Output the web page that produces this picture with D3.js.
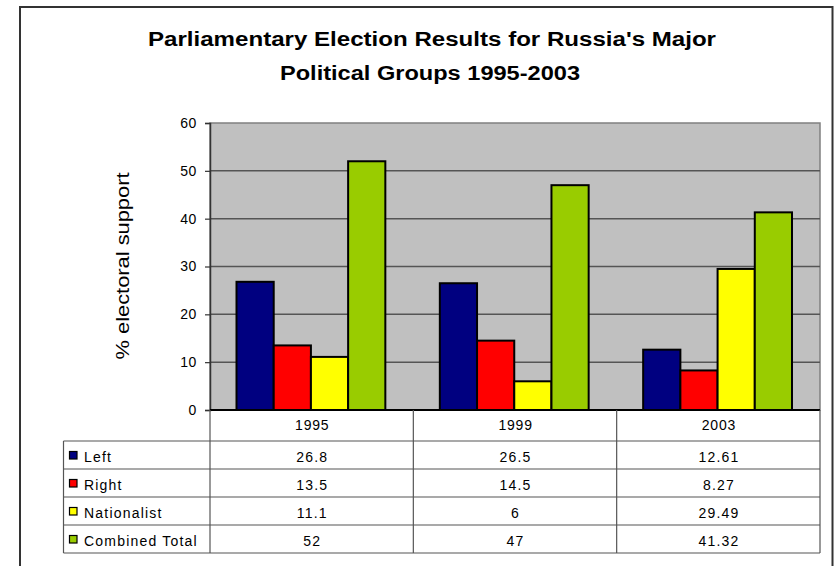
<!DOCTYPE html>
<html><head><meta charset="utf-8">
<script src="https://cdn.jsdelivr.net/npm/d3@7"></script>
<style>body{margin:0;background:#fff}svg{display:block}</style>
</head><body>
<script>
const years = ["1995", "1999", "2003"];
const seriesNames = ["Left", "Right", "Nationalist", "Combined Total"];
const leftVals = [26.8, 26.5, 12.61];
const rightVals = [13.5, 14.5, 8.27];
const natVals = [11.1, 6, 29.49];
const totalVals = [52, 47, 41.32];
const yTicks = [0, 10, 20, 30, 40, 50, 60];
const colors = ["#000080", "#ff0000", "#ffff00", "#99cc00"];
const values = [leftVals, rightVals, natVals, totalVals];

const W = 834, H = 566;
const svg = d3.select("body").append("svg").attr("width", W).attr("height", H);
const font = "Liberation Sans, Arial, sans-serif";

// outer border
svg.append("rect").attr("x", 20).attr("y", 7).attr("width", 812.5).attr("height", 600)
  .attr("fill", "#fff").attr("stroke", "#333").attr("stroke-width", 2);

// title
svg.append("text").attr("x", 432).attr("y", 46).attr("text-anchor", "middle")
  .attr("font-family", font).attr("font-weight", "bold").attr("font-size", 19.5)
  .attr("textLength", 568).attr("lengthAdjust", "spacingAndGlyphs")
  .text("Parliamentary Election Results for Russia's Major");
svg.append("text").attr("x", 430).attr("y", 80).attr("text-anchor", "middle")
  .attr("font-family", font).attr("font-weight", "bold").attr("font-size", 19.5)
  .attr("textLength", 300).attr("lengthAdjust", "spacingAndGlyphs")
  .text("Political Groups 1995-2003");

const pl = 210, pr = 820, pt = 123, pb = 410;
const x0 = d3.scaleBand().domain(years).range([pl, pr]).paddingInner(0).paddingOuter(0);
const y = d3.scaleLinear().domain([0, 60]).range([pb, pt]);
const x1 = d3.scaleBand().domain(seriesNames).range([26.5, x0.bandwidth() - 28]).padding(0);

// plot background
svg.append("rect").attr("x", pl).attr("y", pt).attr("width", pr - pl).attr("height", pb - pt)
  .attr("fill", "#c0c0c0").attr("stroke", "#808080").attr("stroke-width", 1.5);

// gridlines
svg.append("g").selectAll("line").data(yTicks.filter(d => d > 0 && d < 60)).join("line")
  .attr("x1", pl).attr("x2", pr).attr("y1", d => y(d)).attr("y2", d => y(d))
  .attr("stroke", "#555").attr("stroke-width", 1.5);

// bars
const g = svg.append("g");
years.forEach((yr, i) => {
  seriesNames.forEach((s, j) => {
    g.append("rect")
      .attr("x", x0(yr) + x1(s))
      .attr("y", y(values[j][i]))
      .attr("width", x1.bandwidth())
      .attr("height", y(0) - y(values[j][i]))
      .attr("fill", colors[j]).attr("stroke", "#000").attr("stroke-width", 2);
  });
});

// y axis
const yAxis = d3.axisLeft(y).tickValues(yTicks).tickSize(5).tickPadding(8);
const ya = svg.append("g").attr("transform", `translate(${pl},0)`).call(yAxis);
ya.attr("font-size", null).attr("font-family", null);
ya.select(".domain").attr("stroke", "#333").attr("stroke-width", 1.5);
ya.selectAll(".tick line").attr("stroke", "#333").attr("stroke-width", 1.2);
ya.selectAll(".tick text").attr("font-family", font).attr("font-size", 14)
  .attr("letter-spacing", 0.6).attr("fill", "#000");

// y label
svg.append("text").attr("transform", "translate(129,266) rotate(-90)")
  .attr("text-anchor", "middle").attr("font-family", font).attr("font-size", 18)
  .attr("textLength", 187).attr("lengthAdjust", "spacingAndGlyphs")
  .text("% electoral support");

// data table
const tableLeft = 63.5, headerBottom = 441;
const rowH = 28;
const rowTops = seriesNames.map((s, i) => headerBottom + i * rowH);
const tableBottom = headerBottom + seriesNames.length * rowH;
const tg = svg.append("g").attr("stroke", "#555").attr("stroke-width", 1.2);
tg.append("line").attr("x1", pl).attr("x2", pr).attr("y1", pb).attr("y2", pb).attr("stroke", "#000").attr("stroke-width", 2);
[headerBottom, ...rowTops.slice(1), tableBottom].forEach(yy => {
  tg.append("line").attr("x1", tableLeft).attr("x2", pr).attr("y1", yy).attr("y2", yy);
});
[pl, x0("1999"), x0("2003"), pr].forEach(xx => {
  tg.append("line").attr("x1", xx).attr("x2", xx).attr("y1", pb).attr("y2", tableBottom);
});
tg.append("line").attr("x1", tableLeft).attr("x2", tableLeft).attr("y1", headerBottom).attr("y2", tableBottom);

const ls = 1.2;
years.forEach(yr => {
  svg.append("text").attr("x", x0(yr) + x0.bandwidth() / 2 + ls / 2).attr("y", 429.5)
    .attr("text-anchor", "middle").attr("font-family", font).attr("font-size", 14)
    .attr("letter-spacing", 0.8).text(yr);
});
seriesNames.forEach((s, j) => {
  const cy = rowTops[j] + rowH / 2;
  svg.append("rect").attr("x", 69.5).attr("y", cy - 3.5).attr("width", 7.5).attr("height", 7.5)
    .attr("fill", colors[j]).attr("stroke", "#000").attr("stroke-width", 1.2);
  svg.append("text").attr("x", 84).attr("y", cy + 6.5).attr("font-family", font).attr("font-size", 14)
    .attr("letter-spacing", ls).text(s);
  years.forEach((yr, i) => {
    svg.append("text").attr("x", x0(yr) + x0.bandwidth() / 2 + ls / 2).attr("y", cy + 6.5)
      .attr("text-anchor", "middle").attr("font-family", font).attr("font-size", 14)
      .attr("letter-spacing", ls).text(values[j][i]);
  });
});
</script>
</body></html>
